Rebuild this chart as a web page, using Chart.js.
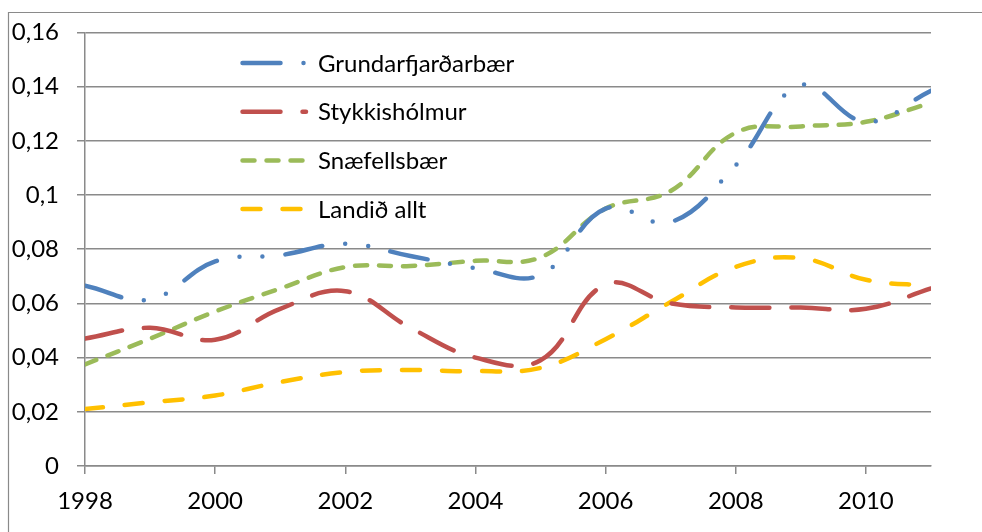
<!DOCTYPE html>
<html>
<head>
<meta charset="utf-8">
<script src="https://cdn.jsdelivr.net/npm/chart.js@4.4.1/dist/chart.umd.min.js"></script>
<style>
    html, body { margin: 0; padding: 0; background: #fff; }
    #wrap { position: relative; width: 982px; height: 532px; }
</style>
</head>
<body>
<div id="wrap"><canvas id="chart" width="982" height="532"></canvas></div>
<script>
// data
const years = [1998, 1999, 2000, 2001, 2002, 2003, 2004, 2005, 2006, 2007, 2008, 2009, 2010, 2011];
const grundarfjardarbaer = [0.0665, 0.0615, 0.0755, 0.0778, 0.082, 0.0775, 0.073, 0.0705, 0.095, 0.090, 0.111, 0.1405, 0.127, 0.1385];
const stykkisholmur = [0.047, 0.051, 0.0466, 0.058, 0.0645, 0.051, 0.040, 0.039, 0.067, 0.060, 0.0585, 0.0585, 0.058, 0.0655];
const snaefellsbaer = [0.0375, 0.047, 0.057, 0.0655, 0.0734, 0.0738, 0.0757, 0.077, 0.095, 0.1015, 0.123, 0.1253, 0.127, 0.134];
const landidAllt = [0.021, 0.0235, 0.026, 0.031, 0.0347, 0.0354, 0.035, 0.0362, 0.0468, 0.0605, 0.0735, 0.0767, 0.0687, 0.0665];
const seriesNames = ['Grundarfjarðarbær', 'Stykkishólmur', 'Snæfellsbær', 'Landið allt'];
const yTicks = [0, 0.02, 0.04, 0.06, 0.08, 0.1, 0.12, 0.14, 0.16];

const FONT = 'Lato, "Open Sans", sans-serif';
const FONT_SIZE = 24;
const GRID = '#8a8a8a';

function pts(values) {
    return values.map(function(v, i) { return {x: years[i], y: v}; });
}

function line(label, values, color, dash) {
    return {
        label: label,
        data: pts(values),
        borderColor: color,
        backgroundColor: color,
        borderWidth: 4.5,
        borderDash: dash,
        borderCapStyle: 'round',
        borderJoinStyle: 'round',
        pointRadius: 0,
        tension: 0.4,
        fill: false
    };
}

// outer frame of the pasted chart
const framePlugin = {
    id: 'frame',
    beforeDraw(chart) {
        let c = chart.ctx;
        c.save();
        c.strokeStyle = GRID;
        c.lineWidth = 1.2;
        c.beginPath();
        c.moveTo(8.5, 532);
        c.lineTo(8.5, 12.5);
        c.lineTo(982, 12.5);
        c.stroke();
        c.restore();
    }
};

// legend sitting inside the plot area
const innerLegend = {
    id: 'innerLegend',
    afterDatasetsDraw(chart) {
        let c = chart.ctx;
        c.save();
        chart.data.datasets.forEach(function(ds, i) {
            let y = 63 + i * 48.7;
            c.strokeStyle = ds.borderColor;
            c.lineWidth = ds.borderWidth;
            c.lineCap = 'round';
            c.setLineDash(ds.borderDash);
            c.beginPath();
            c.moveTo(242.5, y);
            c.lineTo(306, y);
            c.stroke();
            c.setLineDash([]);
            c.fillStyle = '#000';
            c.font = FONT_SIZE + 'px ' + FONT;
            c.textBaseline = 'middle';
            c.textAlign = 'left';
            c.fillText(ds.label, 318, y + 1);
        });
        c.restore();
    }
};

new Chart(document.getElementById('chart'), {
    type: 'line',
    data: {
        datasets: [
            line(seriesNames[0], grundarfjardarbaer, '#4F81BD', [38, 23, 0, 23, 0, 23]),
            line(seriesNames[1], stykkisholmur, '#C0504D', [38, 22]),
            line(seriesNames[2], snaefellsbaer, '#9BBB59', [12, 12]),
            line(seriesNames[3], landidAllt, '#FFC000', [18, 22])
        ]
    },
    options: {
        responsive: false,
        animation: false,
        layout: {
            padding: {left: 10, top: 28, right: 51, bottom: 0}
        },
        plugins: {
            legend: {display: false},
            tooltip: {enabled: false}
        },
        scales: {
            x: {
                type: 'linear',
                min: years[0],
                max: years[years.length - 1],
                afterFit: function(s) { s.height = 66; },
                ticks: {
                    stepSize: 2,
                    includeBounds: false,
                    padding: 13,
                    color: '#000',
                    font: {family: FONT, size: FONT_SIZE},
                    callback: function(v) { return String(v); }
                },
                grid: {drawOnChartArea: false, drawTicks: true, tickLength: 8, color: GRID, lineWidth: 1.5},
                border: {color: GRID, width: 1.5}
            },
            y: {
                min: 0,
                max: 0.16,
                afterFit: function(s) { s.width = 75; },
                afterBuildTicks: function(s) { s.ticks = yTicks.map(function(v) { return {value: v}; }); },
                ticks: {
                    padding: 18,
                    color: '#000',
                    font: {family: FONT, size: FONT_SIZE},
                    callback: function(v) { return String(Math.round(v * 100) / 100).replace('.', ','); }
                },
                grid: {color: GRID, lineWidth: 1.5, tickLength: 8},
                border: {color: GRID, width: 1.5}
            }
        }
    },
    plugins: [framePlugin, innerLegend]
});
</script>
</body>
</html>
